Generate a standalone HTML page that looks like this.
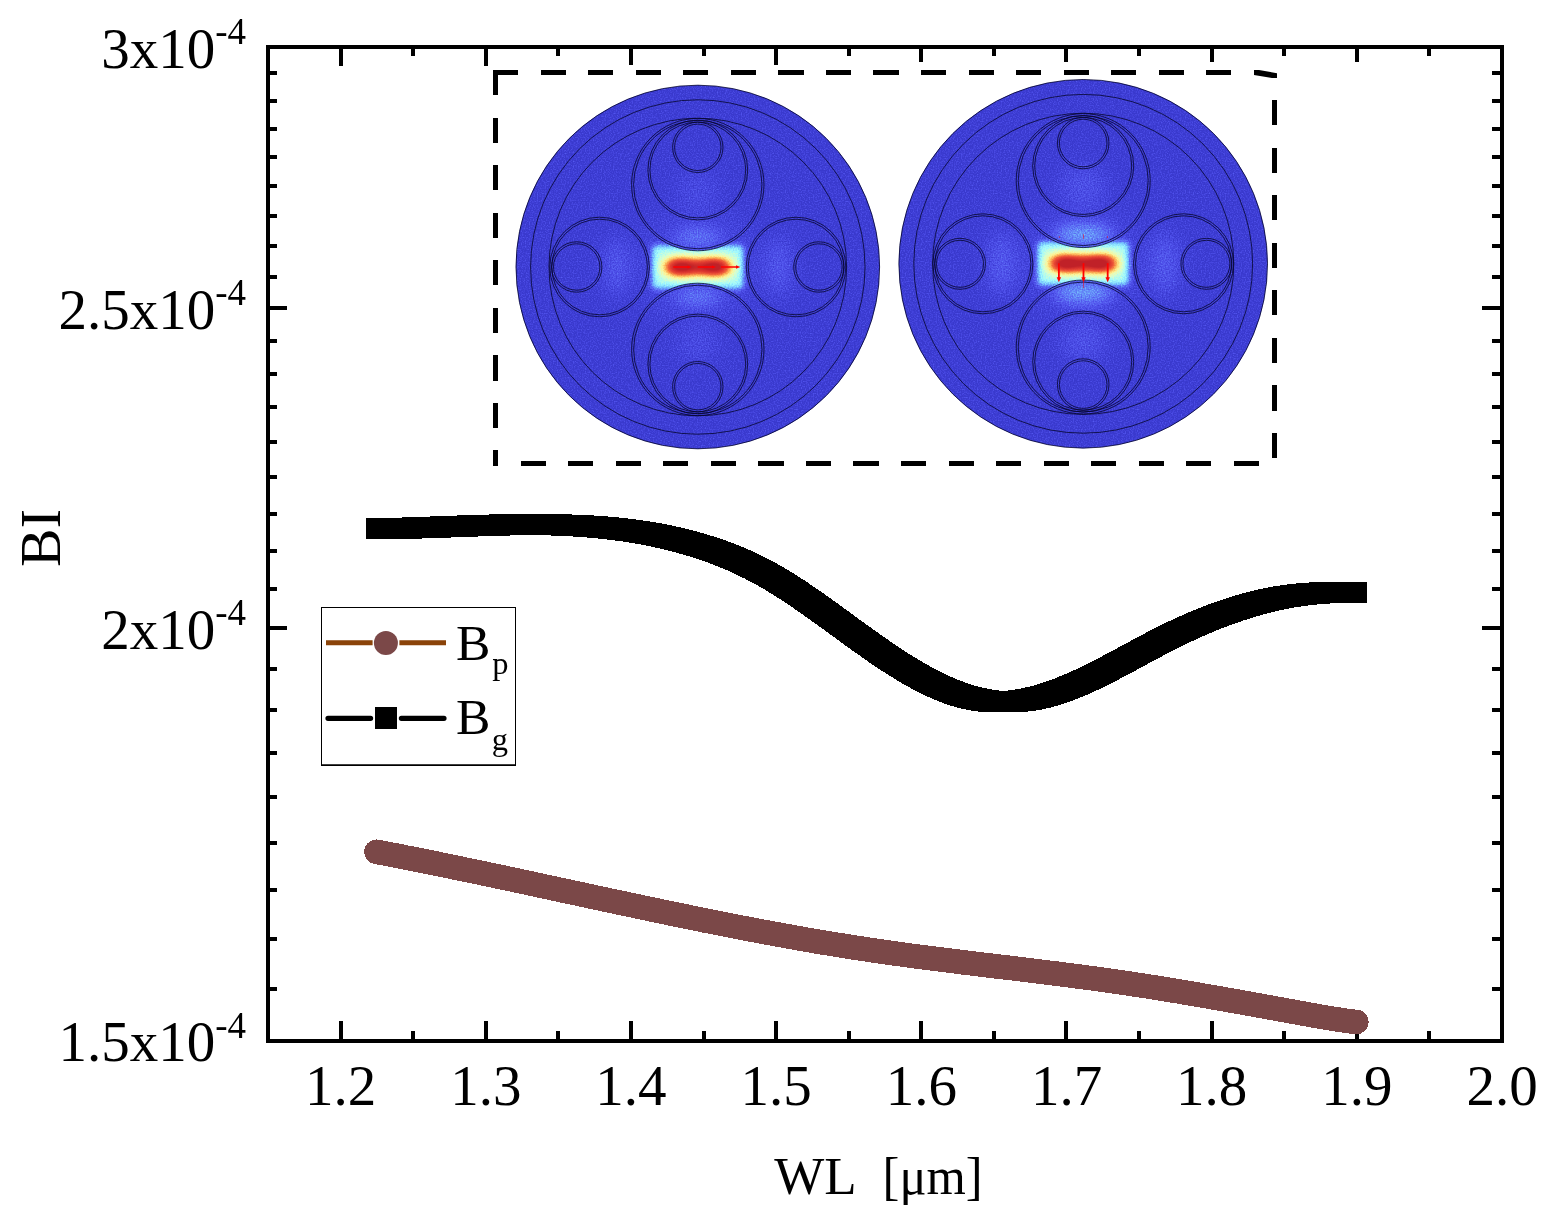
<!DOCTYPE html>
<html lang="en"><head><meta charset="utf-8"><title>BI vs WL</title>
<style>html,body{margin:0;padding:0;background:#fff}body{width:1557px;height:1222px;overflow:hidden}svg{display:block}text{font-family:"Liberation Serif","DejaVu Serif",serif;fill:#000}</style>
</head><body>
<svg width="1557" height="1222" viewBox="0 0 1557 1222">
<rect width="1557" height="1222" fill="#fff"/>
<path d="M340.59 47.0v19M340.59 1041.0v-20.5M485.76 47.0v19M485.76 1041.0v-20.5M630.94 47.0v17.8M630.94 1041.0v-20.5M776.12 47.0v17.8M776.12 1041.0v-20.5M921.29 47.0v14.5M921.29 1041.0v-20.5M1066.47 47.0v14.5M1066.47 1041.0v-20.5M1211.65 47.0v14.5M1211.65 1041.0v-20.5M1356.82 47.0v14.5M1356.82 1041.0v-20.5M413.18 47.0v9M413.18 1041.0v-10M558.35 47.0v9M558.35 1041.0v-10M703.53 47.0v9M703.53 1041.0v-10M848.71 47.0v9M848.71 1041.0v-10M993.88 47.0v9M993.88 1041.0v-10M1139.06 47.0v9M1139.06 1041.0v-10M1284.24 47.0v9M1284.24 1041.0v-10M1429.41 47.0v9M1429.41 1041.0v-10M268.0 73.00h9M1502.0 73.00h-9.6M268.0 101.12h9M1502.0 101.12h-9.6M268.0 128.97h9M1502.0 128.97h-9.6M268.0 157.37h9M1502.0 157.37h-9.6M268.0 186.34h9M1502.0 186.34h-9.6M268.0 215.91h9M1502.0 215.91h-9.6M268.0 246.10h9M1502.0 246.10h-9.6M268.0 276.94h9M1502.0 276.94h-9.6M268.0 308.46h19M1502.0 308.46h-20M268.0 340.68h9M1502.0 340.68h-9.6M268.0 373.65h9M1502.0 373.65h-9.6M268.0 407.39h9M1502.0 407.39h-9.6M268.0 441.95h9M1502.0 441.95h-9.6M268.0 477.36h9M1502.0 477.36h-9.6M268.0 513.67h9M1502.0 513.67h-9.6M268.0 550.92h9M1502.0 550.92h-9.6M268.0 589.16h9M1502.0 589.16h-9.6M268.0 628.45h19M1502.0 628.45h-20M268.0 668.85h9M1502.0 668.85h-9.6M268.0 710.42h9M1502.0 710.42h-9.6M268.0 753.23h9M1502.0 753.23h-9.6M268.0 797.36h9M1502.0 797.36h-9.6M268.0 842.89h9M1502.0 842.89h-9.6M268.0 889.91h9M1502.0 889.91h-9.6M268.0 938.53h9M1502.0 938.53h-9.6M268.0 988.85h9M1502.0 988.85h-9.6" stroke="#000" stroke-width="4" fill="none" shape-rendering="crispEdges"/>
<defs>
<filter id="jet" color-interpolation-filters="sRGB" filterUnits="userSpaceOnUse" x="500" y="60" width="790" height="410"><feTurbulence type="fractalNoise" baseFrequency="0.75" numOctaves="1" seed="3" result="n0"/><feColorMatrix in="n0" type="matrix" values="1 0 0 0 0 1 0 0 0 0 1 0 0 0 0 0 0 0 0 1" result="n"/><feComposite in="SourceGraphic" in2="n" operator="arithmetic" k1="-0.3" k2="1.129" k3="0.3" k4="-0.129" result="m"/><feComposite in="m" in2="SourceGraphic" operator="in"/><feComponentTransfer><feFuncR type="table" tableValues="0.224 0.245 0.267 0.29 0.314 0.333 0.353 0.369 0.384 0.408 0.431 0.459 0.486 0.524 0.561 0.598 0.635 0.69 0.745 0.8 0.855 0.894 0.933 0.973 0.995 0.993 0.991 0.989 0.983 0.97 0.957 0.944 0.929 0.914 0.898 0.882 0.859 0.837 0.812 0.782 0.753"/><feFuncG type="table" tableValues="0.224 0.245 0.267 0.294 0.322 0.361 0.4 0.455 0.51 0.584 0.659 0.731 0.804 0.848 0.892 0.936 0.98 0.985 0.99 0.995 1 0.988 0.976 0.964 0.93 0.864 0.797 0.73 0.656 0.571 0.486 0.401 0.353 0.314 0.275 0.239 0.216 0.194 0.173 0.153 0.133"/><feFuncB type="table" tableValues="0.804 0.835 0.867 0.894 0.922 0.937 0.953 0.961 0.969 0.976 0.984 0.992 1 0.998 0.996 0.994 0.992 0.945 0.898 0.851 0.804 0.744 0.684 0.624 0.563 0.5 0.438 0.375 0.325 0.295 0.264 0.234 0.22 0.212 0.203 0.194 0.186 0.178 0.17 0.163 0.157"/></feComponentTransfer></filter>
<filter id="b6" color-interpolation-filters="sRGB" x="-100%" y="-100%" width="300%" height="300%"><feGaussianBlur stdDeviation="6"/></filter>
<filter id="b8" color-interpolation-filters="sRGB" x="-100%" y="-100%" width="300%" height="300%"><feGaussianBlur stdDeviation="8"/></filter>
<filter id="b10" color-interpolation-filters="sRGB" x="-100%" y="-100%" width="300%" height="300%"><feGaussianBlur stdDeviation="10"/></filter>
<filter id="b14" color-interpolation-filters="sRGB" x="-100%" y="-100%" width="300%" height="300%"><feGaussianBlur stdDeviation="14"/></filter>
<filter id="bc" color-interpolation-filters="sRGB" filterUnits="userSpaceOnUse" x="500" y="60" width="790" height="410"><feGaussianBlur stdDeviation="7.5 6.6"/><feComponentTransfer><feFuncA type="linear" slope="2.7"/></feComponentTransfer></filter>
<filter id="bh" color-interpolation-filters="sRGB" x="-30%" y="-50%" width="160%" height="200%"><feGaussianBlur stdDeviation="3.2"/></filter>
</defs>
<path d="M493 72.5H1250M1274.5 100V458M1259 463.5H519M495.5 70V466" fill="none" stroke="#000" stroke-width="5" stroke-dasharray="25.2 22.35" shape-rendering="crispEdges"/>
<path d="M1254 70H1259L1277 73.2V78H1272L1254 75Z" fill="#000"/>
<clipPath id="d1c"><circle cx="697.8" cy="267.0" r="182.1"/></clipPath>
<clipPath id="d1o"><path clip-rule="evenodd" d="M516 85h364v364h-364ZM631.8 184.6a66.0 66.0 0 1 0 132.0 0a66.0 66.0 0 1 0 -132.0 0ZM631.8 349.4a66.0 66.0 0 1 0 132.0 0a66.0 66.0 0 1 0 -132.0 0ZM550.0 267.0a49.6 49.6 0 1 0 99.2 0a49.6 49.6 0 1 0 -99.2 0ZM746.4 267.0a49.6 49.6 0 1 0 99.2 0a49.6 49.6 0 1 0 -99.2 0Z"/></clipPath>
<clipPath id="d1i"><path d="M631.8 184.6a66.0 66.0 0 1 0 132.0 0a66.0 66.0 0 1 0 -132.0 0ZM631.8 349.4a66.0 66.0 0 1 0 132.0 0a66.0 66.0 0 1 0 -132.0 0ZM550.0 267.0a49.6 49.6 0 1 0 99.2 0a49.6 49.6 0 1 0 -99.2 0ZM746.4 267.0a49.6 49.6 0 1 0 99.2 0a49.6 49.6 0 1 0 -99.2 0Z"/></clipPath>
<g filter="url(#jet)"><g clip-path="url(#d1c)">
<rect x="514" y="83" width="368" height="368" fill="#000"/>
<circle cx="697.8" cy="267.0" r="60" fill="#fff" opacity="0.04" filter="url(#b14)"/>
<g clip-path="url(#d1i)">
<ellipse cx="697.8" cy="237.5" rx="24" ry="7" fill="#fff" opacity="0.17" filter="url(#b8)"/>
<ellipse cx="697.8" cy="296.5" rx="24" ry="7" fill="#fff" opacity="0.17" filter="url(#b8)"/>
<ellipse cx="697.8" cy="190.0" rx="22" ry="18" fill="#fff" opacity="0.05" filter="url(#b10)"/>
<ellipse cx="697.8" cy="344.0" rx="22" ry="18" fill="#fff" opacity="0.05" filter="url(#b10)"/>
<ellipse cx="617.0" cy="267.0" rx="12" ry="30" fill="#fff" opacity="0.1" filter="url(#b10)"/>
<ellipse cx="778.6" cy="267.0" rx="12" ry="30" fill="#fff" opacity="0.1" filter="url(#b10)"/>
<g fill="#fff" opacity="0.4" filter="url(#bc)"><rect x="666.8" y="264.4" width="62" height="5.2"/><rect x="668.8" y="262.2" width="22" height="9.600000000000001" opacity="0.5"/><rect x="704.8" y="262.2" width="22" height="9.600000000000001" opacity="0.5"/></g>
</g>
<g clip-path="url(#d1o)">
<rect x="652.3" y="245.5" width="91" height="43" fill="#fff" opacity="0.38" filter="url(#bh)"/>
<g fill="#fff" filter="url(#bc)"><rect x="666.8" y="264.4" width="62" height="5.2"/><rect x="668.8" y="262.2" width="22" height="9.600000000000001" opacity="0.5"/><rect x="704.8" y="262.2" width="22" height="9.600000000000001" opacity="0.5"/></g>
</g>
</g></g>
<g fill="none" stroke="#05052c" stroke-width="0.8"><circle cx="697.8" cy="267.0" r="181.8"/><circle cx="697.8" cy="267.0" r="167.2"/><circle cx="697.8" cy="267.0" r="148.8"/><circle cx="697.8" cy="184.6" r="66.2"/><circle cx="697.8" cy="184.6" r="64.2"/><circle cx="697.8" cy="170.0" r="49.9"/><circle cx="697.8" cy="170.0" r="47.9"/><circle cx="697.8" cy="147.3" r="25.2"/><circle cx="697.8" cy="147.3" r="23.2"/><circle cx="697.8" cy="349.4" r="66.2"/><circle cx="697.8" cy="349.4" r="64.2"/><circle cx="697.8" cy="364.0" r="49.9"/><circle cx="697.8" cy="364.0" r="47.9"/><circle cx="697.8" cy="386.7" r="25.2"/><circle cx="697.8" cy="386.7" r="23.2"/><circle cx="599.6" cy="267.0" r="49.8"/><circle cx="599.6" cy="267.0" r="47.8"/><circle cx="576.7" cy="267.0" r="25.2"/><circle cx="576.7" cy="267.0" r="23.2"/><circle cx="796.0" cy="267.0" r="49.8"/><circle cx="796.0" cy="267.0" r="47.8"/><circle cx="818.9" cy="267.0" r="25.2"/><circle cx="818.9" cy="267.0" r="23.2"/></g>
<path d="M673.2 267H689M697.6 267H713.4M721 267H737" fill="none" stroke="#f00" stroke-width="1.5"/><path d="M687.6 265.4L691.6 267L687.6 268.6ZM712 265.4L716 267L712 268.6ZM736 265.3L740.4 267L736 268.7Z" fill="#f00"/>
<clipPath id="d2c"><circle cx="1083.2" cy="263.8" r="184.6"/></clipPath>
<clipPath id="d2o"><path clip-rule="evenodd" d="M899 79h369v369h-369ZM1016.4 180.6a66.8 66.8 0 1 0 133.6 0a66.8 66.8 0 1 0 -133.6 0ZM1016.4 347.0a66.8 66.8 0 1 0 133.6 0a66.8 66.8 0 1 0 -133.6 0ZM933.1 263.8a49.8 49.8 0 1 0 99.6 0a49.8 49.8 0 1 0 -99.6 0ZM1133.7 263.8a49.8 49.8 0 1 0 99.6 0a49.8 49.8 0 1 0 -99.6 0Z"/></clipPath>
<clipPath id="d2i"><path d="M1016.4 180.6a66.8 66.8 0 1 0 133.6 0a66.8 66.8 0 1 0 -133.6 0ZM1016.4 347.0a66.8 66.8 0 1 0 133.6 0a66.8 66.8 0 1 0 -133.6 0ZM933.1 263.8a49.8 49.8 0 1 0 99.6 0a49.8 49.8 0 1 0 -99.6 0ZM1133.7 263.8a49.8 49.8 0 1 0 99.6 0a49.8 49.8 0 1 0 -99.6 0Z"/></clipPath>
<g filter="url(#jet)"><g clip-path="url(#d2c)">
<rect x="897" y="77" width="373" height="373" fill="#000"/>
<circle cx="1083.2" cy="263.8" r="60" fill="#fff" opacity="0.04" filter="url(#b14)"/>
<g clip-path="url(#d2i)">
<ellipse cx="1083.2" cy="234.5" rx="30" ry="9" fill="#fff" opacity="0.24" filter="url(#b8)"/>
<ellipse cx="1083.2" cy="292.5" rx="30" ry="9" fill="#fff" opacity="0.24" filter="url(#b8)"/>
<ellipse cx="1083.2" cy="186.0" rx="24" ry="20" fill="#fff" opacity="0.07" filter="url(#b10)"/>
<ellipse cx="1083.2" cy="341.0" rx="24" ry="20" fill="#fff" opacity="0.07" filter="url(#b10)"/>
<ellipse cx="1002.0" cy="263.8" rx="14" ry="32" fill="#fff" opacity="0.1" filter="url(#b10)"/>
<ellipse cx="1164.4" cy="263.8" rx="14" ry="32" fill="#fff" opacity="0.1" filter="url(#b10)"/>
<g fill="#fff" opacity="0.45" filter="url(#bc)"><rect x="1051.7" y="260.5" width="63.0" height="6.0"/><rect x="1053.7" y="258.3" width="22" height="10.4" opacity="0.35"/><rect x="1090.7" y="258.3" width="22" height="10.4" opacity="0.35"/></g>
</g>
<g clip-path="url(#d2o)">
<rect x="1037.7" y="242.0" width="91" height="43" fill="#fff" opacity="0.38" filter="url(#bh)"/>
<g fill="#fff" filter="url(#bc)"><rect x="1051.7" y="260.5" width="63.0" height="6.0"/><rect x="1053.7" y="258.3" width="22" height="10.4" opacity="0.35"/><rect x="1090.7" y="258.3" width="22" height="10.4" opacity="0.35"/></g>
</g>
</g></g>
<g fill="none" stroke="#05052c" stroke-width="0.8"><circle cx="1083.2" cy="263.8" r="184.3"/><circle cx="1083.2" cy="263.8" r="169.4"/><circle cx="1083.2" cy="263.8" r="150.6"/><circle cx="1083.2" cy="180.6" r="67.0"/><circle cx="1083.2" cy="180.6" r="65.0"/><circle cx="1083.2" cy="166.0" r="50.5"/><circle cx="1083.2" cy="166.0" r="48.5"/><circle cx="1083.2" cy="143.0" r="25.8"/><circle cx="1083.2" cy="143.0" r="23.8"/><circle cx="1083.2" cy="347.0" r="67.0"/><circle cx="1083.2" cy="347.0" r="65.0"/><circle cx="1083.2" cy="361.6" r="50.5"/><circle cx="1083.2" cy="361.6" r="48.5"/><circle cx="1083.2" cy="384.6" r="25.8"/><circle cx="1083.2" cy="384.6" r="23.8"/><circle cx="982.9" cy="263.8" r="50.0"/><circle cx="982.9" cy="263.8" r="48.0"/><circle cx="960.0" cy="263.8" r="25.5"/><circle cx="960.0" cy="263.8" r="23.5"/><circle cx="1183.5" cy="263.8" r="50.0"/><circle cx="1183.5" cy="263.8" r="48.0"/><circle cx="1206.4" cy="263.8" r="25.5"/><circle cx="1206.4" cy="263.8" r="23.5"/></g>
<path d="M1058.9 263.2V279" stroke="#f00" stroke-width="1.8" fill="none"/><path d="M1056.7 277.2H1061.1000000000001L1058.9 282.3Z" fill="#f00"/><path d="M1083.5 263.2V279" stroke="#f00" stroke-width="1.8" fill="none"/><path d="M1081.3 277.2H1085.7L1083.5 282.3Z" fill="#f00"/><path d="M1107.7 263.2V279" stroke="#f00" stroke-width="1.8" fill="none"/><path d="M1105.5 277.2H1109.9L1107.7 282.3Z" fill="#f00"/><path d="M1083.5 282V288.2M1083.5 234.2V238.8" stroke="#f00" stroke-width="0.7" stroke-opacity="0.7" fill="none"/><path d="M1059.3 236V238M1107.5 236V238" stroke="#f00" stroke-width="0.8" stroke-opacity="0.6" fill="none"/>
<path d="M366.0 518.2L367.0 518.2L368.0 518.2L369.0 518.2L370.0 518.2L371.0 518.2L372.0 518.1L373.0 518.1L374.0 518.1L375.0 518.1L376.0 518.1L377.0 518.1L378.0 518.0L379.0 518.0L380.0 518.0L381.0 518.0L382.0 518.0L383.0 517.9L384.0 517.9L385.0 517.9L386.0 517.9L387.0 517.9L388.0 517.8L389.0 517.8L390.0 517.8L391.0 517.8L392.0 517.7L393.0 517.7L394.0 517.7L395.0 517.7L396.0 517.6L397.0 517.6L398.0 517.6L399.0 517.5L400.0 517.5L401.0 517.5L402.0 517.5L403.0 517.4L404.0 517.4L405.0 517.4L406.0 517.3L407.0 517.3L408.0 517.3L409.0 517.2L410.0 517.2L411.0 517.2L412.0 517.1L413.0 517.1L414.0 517.1L415.0 517.0L416.0 517.0L417.0 517.0L418.0 516.9L419.0 516.9L420.0 516.8L421.0 516.8L422.0 516.8L423.0 516.7L424.0 516.7L425.0 516.7L426.0 516.6L427.0 516.6L428.0 516.5L429.0 516.5L430.0 516.5L431.0 516.4L432.0 516.4L433.0 516.4L434.0 516.3L435.0 516.3L436.0 516.2L437.0 516.2L438.0 516.2L439.0 516.1L440.0 516.1L441.0 516.1L442.0 516.0L443.0 516.0L444.0 515.9L445.0 515.9L446.0 515.9L447.0 515.8L448.0 515.8L449.0 515.8L450.0 515.7L451.0 515.7L452.0 515.6L453.0 515.6L454.0 515.6L455.0 515.5L456.0 515.5L457.0 515.5L458.0 515.4L459.0 515.4L460.0 515.4L461.0 515.3L462.0 515.3L463.0 515.2L464.0 515.2L465.0 515.2L466.0 515.1L467.0 515.1L468.0 515.1L469.0 515.0L470.0 515.0L471.0 515.0L472.0 514.9L473.0 514.9L474.0 514.9L475.0 514.8L476.0 514.8L477.0 514.8L478.0 514.8L479.0 514.7L480.0 514.7L481.0 514.7L482.0 514.6L483.0 514.6L484.0 514.6L485.0 514.6L486.0 514.5L487.0 514.5L488.0 514.5L489.0 514.5L490.0 514.4L491.0 514.4L492.0 514.4L493.0 514.4L494.0 514.4L495.0 514.3L496.0 514.3L497.0 514.3L498.0 514.3L499.0 514.3L500.0 514.2L501.0 514.2L502.0 514.2L503.0 514.2L504.0 514.2L505.0 514.2L506.0 514.1L507.0 514.1L508.0 514.1L509.0 514.1L510.0 514.1L511.0 514.1L512.0 514.1L513.0 514.1L514.0 514.1L515.0 514.1L516.0 514.0L517.0 514.0L518.0 514.0L519.0 514.0L520.0 514.0L521.0 514.0L522.0 514.0L523.0 514.0L524.0 514.0L525.0 514.0L526.0 514.0L527.0 514.0L528.0 514.0L529.0 514.0L530.0 514.0L531.0 514.0L532.0 514.0L533.0 514.0L534.0 514.0L535.0 514.0L536.0 514.0L537.0 514.0L538.0 514.0L539.0 514.0L540.0 514.0L541.0 514.0L542.0 514.0L543.0 514.0L544.0 514.0L545.0 514.0L546.0 514.0L547.0 514.0L548.0 514.0L549.0 514.1L550.0 514.1L551.0 514.1L552.0 514.1L553.0 514.1L554.0 514.1L555.0 514.1L556.0 514.1L557.0 514.1L558.0 514.1L559.0 514.2L560.0 514.2L561.0 514.2L562.0 514.2L563.0 514.2L564.0 514.3L565.0 514.3L566.0 514.3L567.0 514.3L568.0 514.4L569.0 514.4L570.0 514.4L571.0 514.4L572.0 514.5L573.0 514.5L574.0 514.5L575.0 514.6L576.0 514.6L577.0 514.6L578.0 514.7L579.0 514.7L580.0 514.8L581.0 514.8L582.0 514.8L583.0 514.9L584.0 514.9L585.0 515.0L586.0 515.0L587.0 515.1L588.0 515.1L589.0 515.2L590.0 515.2L591.0 515.3L592.0 515.4L593.0 515.4L594.0 515.5L595.0 515.5L596.0 515.6L597.0 515.7L598.0 515.7L599.0 515.8L600.0 515.9L601.0 515.9L602.0 516.0L603.0 516.1L604.0 516.2L605.0 516.2L606.0 516.3L607.0 516.4L608.0 516.5L609.0 516.6L610.0 516.7L611.0 516.7L612.0 516.8L613.0 516.9L614.0 517.0L615.0 517.1L616.0 517.2L617.0 517.3L618.0 517.4L619.0 517.5L620.0 517.6L621.0 517.7L622.0 517.8L623.0 517.9L624.0 518.0L625.0 518.1L626.0 518.3L627.0 518.4L628.0 518.5L629.0 518.6L630.0 518.7L631.0 518.8L632.0 519.0L633.0 519.1L634.0 519.2L635.0 519.4L636.0 519.5L637.0 519.6L638.0 519.8L639.0 519.9L640.0 520.0L641.0 520.2L642.0 520.3L643.0 520.5L644.0 520.6L645.0 520.8L646.0 520.9L647.0 521.1L648.0 521.2L649.0 521.4L650.0 521.5L651.0 521.7L652.0 521.9L653.0 522.0L654.0 522.2L655.0 522.4L656.0 522.5L657.0 522.7L658.0 522.9L659.0 523.1L660.0 523.3L661.0 523.4L662.0 523.6L663.0 523.8L664.0 524.0L665.0 524.2L666.0 524.4L667.0 524.6L668.0 524.8L669.0 525.0L670.0 525.2L671.0 525.4L672.0 525.6L673.0 525.8L674.0 526.0L675.0 526.2L676.0 526.5L677.0 526.7L678.0 526.9L679.0 527.1L680.0 527.3L681.0 527.6L682.0 527.8L683.0 528.0L684.0 528.3L685.0 528.5L686.0 528.8L687.0 529.0L688.0 529.3L689.0 529.5L690.0 529.7L691.0 530.0L692.0 530.3L693.0 530.5L694.0 530.8L695.0 531.1L696.0 531.3L697.0 531.6L698.0 531.9L699.0 532.1L700.0 532.4L701.0 532.7L702.0 533.0L703.0 533.3L704.0 533.6L705.0 533.8L706.0 534.1L707.0 534.4L708.0 534.7L709.0 535.1L710.0 535.4L711.0 535.7L712.0 536.0L713.0 536.3L714.0 536.6L715.0 536.9L716.0 537.2L717.0 537.6L718.0 537.9L719.0 538.3L720.0 538.6L721.0 538.9L722.0 539.3L723.0 539.6L724.0 539.9L725.0 540.3L726.0 540.7L727.0 541.0L728.0 541.4L729.0 541.8L730.0 542.1L731.0 542.5L732.0 542.9L733.0 543.3L734.0 543.7L735.0 544.0L736.0 544.4L737.0 544.8L738.0 545.2L739.0 545.6L740.0 546.0L741.0 546.4L742.0 546.9L743.0 547.3L744.0 547.7L745.0 548.1L746.0 548.5L747.0 548.9L748.0 549.4L749.0 549.8L750.0 550.3L751.0 550.7L752.0 551.2L753.0 551.6L754.0 552.1L755.0 552.5L756.0 553.0L757.0 553.4L758.0 554.0L759.0 554.4L760.0 554.9L761.0 555.4L762.0 555.9L763.0 556.3L764.0 556.8L765.0 557.3L766.0 557.9L767.0 558.4L768.0 558.9L769.0 559.4L770.0 559.9L771.0 560.4L772.0 561.0L773.0 561.5L774.0 562.0L775.0 562.6L776.0 563.2L777.0 563.7L778.0 564.3L779.0 564.8L780.0 565.4L781.0 565.9L782.0 566.5L783.0 567.2L784.0 567.7L785.0 568.3L786.0 568.9L787.0 569.5L788.0 570.1L789.0 570.7L790.0 571.3L791.0 572.0L792.0 572.6L793.0 573.2L794.0 573.8L795.0 574.4L796.0 575.0L797.0 575.6L798.0 576.3L799.0 577.0L800.0 577.6L801.0 578.3L802.0 578.9L803.0 579.5L804.0 580.2L805.0 580.8L806.0 581.5L807.0 582.1L808.0 582.9L809.0 583.5L810.0 584.2L811.0 584.9L812.0 585.5L813.0 586.2L814.0 586.9L815.0 587.5L816.0 588.3L817.0 589.0L818.0 589.7L819.0 590.4L820.0 591.0L821.0 591.7L822.0 592.4L823.0 593.1L824.0 593.9L825.0 594.6L826.0 595.3L827.0 596.0L828.0 596.7L829.0 597.4L830.0 598.1L831.0 598.8L832.0 599.6L833.0 600.3L834.0 601.0L835.0 601.7L836.0 602.4L837.0 603.1L838.0 603.8L839.0 604.5L840.0 605.4L841.0 606.1L842.0 606.8L843.0 607.5L844.0 608.2L845.0 608.9L846.0 609.6L847.0 610.3L848.0 611.1L849.0 611.9L850.0 612.6L851.0 613.3L852.0 614.0L853.0 614.8L854.0 615.5L855.0 616.2L856.0 616.9L857.0 617.7L858.0 618.5L859.0 619.2L860.0 619.9L861.0 620.6L862.0 621.3L863.0 622.0L864.0 622.7L865.0 623.6L866.0 624.3L867.0 625.0L868.0 625.7L869.0 626.4L870.0 627.1L871.0 627.8L872.0 628.5L873.0 629.3L874.0 630.0L875.0 630.7L876.0 631.4L877.0 632.1L878.0 632.8L879.0 633.5L880.0 634.2L881.0 634.9L882.0 635.7L883.0 636.4L884.0 637.1L885.0 637.8L886.0 638.5L887.0 639.2L888.0 639.8L889.0 640.5L890.0 641.3L891.0 642.0L892.0 642.6L893.0 643.3L894.0 644.0L895.0 644.6L896.0 645.3L897.0 646.0L898.0 646.7L899.0 647.4L900.0 648.0L901.0 648.7L902.0 649.3L903.0 650.0L904.0 650.6L905.0 651.2L906.0 652.0L907.0 652.6L908.0 653.2L909.0 653.9L910.0 654.5L911.0 655.1L912.0 655.7L913.0 656.3L914.0 656.9L915.0 657.6L916.0 658.2L917.0 658.8L918.0 659.4L919.0 660.0L920.0 660.6L921.0 661.2L922.0 661.7L923.0 662.4L924.0 663.0L925.0 663.5L926.0 664.1L927.0 664.7L928.0 665.2L929.0 665.7L930.0 666.3L931.0 666.9L932.0 667.5L933.0 668.0L934.0 668.5L935.0 669.0L936.0 669.5L937.0 670.0L938.0 670.6L939.0 671.1L940.0 671.6L941.0 672.1L942.0 672.6L943.0 673.1L944.0 673.6L945.0 674.0L946.0 674.5L947.0 674.9L948.0 675.5L949.0 675.9L950.0 676.4L951.0 676.8L952.0 677.2L953.0 677.7L954.0 678.1L955.0 678.5L956.0 679.0L957.0 679.4L958.0 679.8L959.0 680.2L960.0 680.5L961.0 680.9L962.0 681.3L963.0 681.7L964.0 682.1L965.0 682.4L966.0 682.8L967.0 683.1L968.0 683.5L969.0 683.8L970.0 684.1L971.0 684.4L972.0 684.8L973.0 685.1L974.0 685.4L975.0 685.7L976.0 685.9L977.0 686.2L978.0 686.5L979.0 686.7L980.0 687.0L981.0 687.3L982.0 687.5L983.0 687.8L984.0 688.0L985.0 688.2L986.0 688.4L987.0 688.6L988.0 688.8L989.0 689.0L990.0 689.2L991.0 689.4L992.0 689.5L993.0 689.7L994.0 689.8L995.0 690.0L996.0 690.1L997.0 690.3L998.0 690.4L999.0 690.5L1000.0 690.6L1001.0 690.7L1002.0 690.8L1003.0 690.9L1004.0 690.8L1005.0 690.8L1006.0 690.7L1007.0 690.6L1008.0 690.5L1009.0 690.3L1010.0 690.2L1011.0 690.1L1012.0 690.0L1013.0 689.8L1014.0 689.7L1015.0 689.5L1016.0 689.4L1017.0 689.2L1018.0 689.0L1019.0 688.9L1020.0 688.7L1021.0 688.5L1022.0 688.3L1023.0 688.1L1024.0 687.9L1025.0 687.6L1026.0 687.4L1027.0 687.2L1028.0 686.9L1029.0 686.7L1030.0 686.5L1031.0 686.2L1032.0 686.0L1033.0 685.7L1034.0 685.4L1035.0 685.1L1036.0 684.8L1037.0 684.5L1038.0 684.2L1039.0 683.9L1040.0 683.6L1041.0 683.3L1042.0 683.0L1043.0 682.6L1044.0 682.3L1045.0 682.0L1046.0 681.7L1047.0 681.3L1048.0 681.0L1049.0 680.6L1050.0 680.2L1051.0 679.8L1052.0 679.5L1053.0 679.1L1054.0 678.7L1055.0 678.4L1056.0 678.0L1057.0 677.6L1058.0 677.1L1059.0 676.7L1060.0 676.3L1061.0 675.9L1062.0 675.5L1063.0 675.1L1064.0 674.7L1065.0 674.3L1066.0 673.8L1067.0 673.4L1068.0 672.9L1069.0 672.5L1070.0 672.1L1071.0 671.6L1072.0 671.2L1073.0 670.7L1074.0 670.3L1075.0 669.8L1076.0 669.3L1077.0 668.8L1078.0 668.4L1079.0 667.9L1080.0 667.4L1081.0 667.0L1082.0 666.5L1083.0 665.9L1084.0 665.5L1085.0 665.0L1086.0 664.5L1087.0 664.0L1088.0 663.5L1089.0 663.0L1090.0 662.5L1091.0 661.9L1092.0 661.4L1093.0 660.9L1094.0 660.4L1095.0 659.9L1096.0 659.4L1097.0 658.9L1098.0 658.4L1099.0 657.8L1100.0 657.3L1101.0 656.8L1102.0 656.3L1103.0 655.8L1104.0 655.2L1105.0 654.7L1106.0 654.2L1107.0 653.7L1108.0 653.1L1109.0 652.6L1110.0 652.0L1111.0 651.5L1112.0 651.0L1113.0 650.5L1114.0 649.9L1115.0 649.4L1116.0 648.8L1117.0 648.3L1118.0 647.7L1119.0 647.2L1120.0 646.7L1121.0 646.1L1122.0 645.6L1123.0 645.1L1124.0 644.5L1125.0 643.9L1126.0 643.4L1127.0 642.9L1128.0 642.3L1129.0 641.8L1130.0 641.3L1131.0 640.7L1132.0 640.1L1133.0 639.6L1134.0 639.1L1135.0 638.6L1136.0 638.0L1137.0 637.5L1138.0 637.0L1139.0 636.5L1140.0 635.9L1141.0 635.3L1142.0 634.8L1143.0 634.3L1144.0 633.8L1145.0 633.3L1146.0 632.8L1147.0 632.2L1148.0 631.7L1149.0 631.1L1150.0 630.6L1151.0 630.1L1152.0 629.6L1153.0 629.1L1154.0 628.6L1155.0 628.1L1156.0 627.6L1157.0 627.1L1158.0 626.6L1159.0 626.1L1160.0 625.6L1161.0 625.1L1162.0 624.6L1163.0 624.2L1164.0 623.7L1165.0 623.1L1166.0 622.7L1167.0 622.2L1168.0 621.7L1169.0 621.3L1170.0 620.8L1171.0 620.3L1172.0 619.9L1173.0 619.4L1174.0 618.9L1175.0 618.4L1176.0 618.0L1177.0 617.5L1178.0 617.1L1179.0 616.7L1180.0 616.2L1181.0 615.8L1182.0 615.3L1183.0 614.8L1184.0 614.4L1185.0 614.0L1186.0 613.6L1187.0 613.1L1188.0 612.7L1189.0 612.3L1190.0 611.8L1191.0 611.4L1192.0 611.0L1193.0 610.6L1194.0 610.2L1195.0 609.8L1196.0 609.4L1197.0 609.0L1198.0 608.5L1199.0 608.1L1200.0 607.8L1201.0 607.4L1202.0 607.0L1203.0 606.6L1204.0 606.2L1205.0 605.9L1206.0 605.4L1207.0 605.1L1208.0 604.7L1209.0 604.3L1210.0 604.0L1211.0 603.6L1212.0 603.2L1213.0 602.9L1214.0 602.5L1215.0 602.1L1216.0 601.8L1217.0 601.4L1218.0 601.1L1219.0 600.8L1220.0 600.4L1221.0 600.1L1222.0 599.8L1223.0 599.4L1224.0 599.1L1225.0 598.7L1226.0 598.4L1227.0 598.1L1228.0 597.8L1229.0 597.5L1230.0 597.2L1231.0 596.8L1232.0 596.5L1233.0 596.2L1234.0 595.9L1235.0 595.6L1236.0 595.4L1237.0 595.1L1238.0 594.8L1239.0 594.5L1240.0 594.2L1241.0 593.9L1242.0 593.6L1243.0 593.4L1244.0 593.1L1245.0 592.8L1246.0 592.6L1247.0 592.3L1248.0 592.0L1249.0 591.8L1250.0 591.5L1251.0 591.3L1252.0 591.1L1253.0 590.8L1254.0 590.6L1255.0 590.3L1256.0 590.1L1257.0 589.9L1258.0 589.6L1259.0 589.4L1260.0 589.2L1261.0 589.0L1262.0 588.8L1263.0 588.6L1264.0 588.3L1265.0 588.1L1266.0 587.9L1267.0 587.7L1268.0 587.5L1269.0 587.4L1270.0 587.2L1271.0 587.0L1272.0 586.8L1273.0 586.6L1274.0 586.4L1275.0 586.3L1276.0 586.1L1277.0 585.9L1278.0 585.8L1279.0 585.6L1280.0 585.5L1281.0 585.3L1282.0 585.2L1283.0 585.0L1284.0 584.9L1285.0 584.7L1286.0 584.6L1287.0 584.5L1288.0 584.4L1289.0 584.2L1290.0 584.1L1291.0 584.0L1292.0 583.9L1293.0 583.8L1294.0 583.7L1295.0 583.6L1296.0 583.5L1297.0 583.4L1298.0 583.3L1299.0 583.2L1300.0 583.1L1301.0 583.0L1302.0 582.9L1303.0 582.9L1304.0 582.8L1305.0 582.7L1306.0 582.7L1307.0 582.6L1308.0 582.5L1309.0 582.5L1310.0 582.4L1311.0 582.4L1312.0 582.4L1313.0 582.3L1314.0 582.3L1315.0 582.2L1316.0 582.2L1317.0 582.2L1318.0 582.2L1319.0 582.2L1320.0 582.1L1321.0 582.1L1322.0 582.1L1323.0 582.1L1324.0 582.1L1325.0 582.1L1326.0 582.1L1327.0 582.1L1328.0 582.1L1329.0 582.1L1330.0 582.1L1331.0 582.1L1332.0 582.1L1333.0 582.1L1334.0 582.1L1335.0 582.1L1336.0 582.1L1337.0 582.1L1338.0 582.1L1339.0 582.1L1340.0 582.1L1341.0 582.1L1342.0 582.1L1343.0 582.1L1344.0 582.1L1345.0 582.1L1346.0 582.1L1347.0 582.1L1348.0 582.1L1349.0 582.1L1350.0 582.1L1351.0 582.1L1352.0 582.1L1353.0 582.1L1354.0 582.1L1355.0 582.1L1356.0 582.1L1357.0 582.1L1358.0 582.1L1359.0 582.1L1360.0 582.1L1361.0 582.1L1362.0 582.1L1363.0 582.1L1364.0 582.1L1365.0 582.1L1366.0 582.1L1367.0 582.1L1367.0 603.1L1366.0 603.1L1365.0 603.1L1364.0 603.1L1363.0 603.1L1362.0 603.1L1361.0 603.1L1360.0 603.1L1359.0 603.1L1358.0 603.1L1357.0 603.1L1356.0 603.1L1355.0 603.1L1354.0 603.1L1353.0 603.1L1352.0 603.1L1351.0 603.1L1350.0 603.1L1349.0 603.1L1348.0 603.1L1347.0 603.1L1346.0 603.1L1345.0 603.1L1344.0 603.1L1343.0 603.1L1342.0 603.1L1341.0 603.1L1340.0 603.2L1339.0 603.2L1338.0 603.2L1337.0 603.2L1336.0 603.2L1335.0 603.3L1334.0 603.3L1333.0 603.3L1332.0 603.4L1331.0 603.4L1330.0 603.5L1329.0 603.5L1328.0 603.6L1327.0 603.6L1326.0 603.7L1325.0 603.8L1324.0 603.9L1323.0 603.9L1322.0 604.0L1321.0 604.1L1320.0 604.2L1319.0 604.3L1318.0 604.3L1317.0 604.5L1316.0 604.5L1315.0 604.6L1314.0 604.8L1313.0 604.9L1312.0 605.0L1311.0 605.1L1310.0 605.2L1309.0 605.3L1308.0 605.5L1307.0 605.6L1306.0 605.7L1305.0 605.9L1304.0 606.0L1303.0 606.1L1302.0 606.3L1301.0 606.5L1300.0 606.6L1299.0 606.8L1298.0 606.9L1297.0 607.1L1296.0 607.2L1295.0 607.4L1294.0 607.6L1293.0 607.8L1292.0 608.0L1291.0 608.1L1290.0 608.3L1289.0 608.5L1288.0 608.7L1287.0 608.9L1286.0 609.1L1285.0 609.3L1284.0 609.5L1283.0 609.7L1282.0 609.9L1281.0 610.2L1280.0 610.4L1279.0 610.6L1278.0 610.8L1277.0 611.0L1276.0 611.3L1275.0 611.5L1274.0 611.8L1273.0 612.0L1272.0 612.3L1271.0 612.5L1270.0 612.7L1269.0 613.0L1268.0 613.3L1267.0 613.5L1266.0 613.8L1265.0 614.1L1264.0 614.3L1263.0 614.6L1262.0 614.9L1261.0 615.1L1260.0 615.4L1259.0 615.7L1258.0 616.0L1257.0 616.3L1256.0 616.6L1255.0 616.9L1254.0 617.2L1253.0 617.5L1252.0 617.8L1251.0 618.1L1250.0 618.4L1249.0 618.7L1248.0 619.1L1247.0 619.4L1246.0 619.7L1245.0 620.0L1244.0 620.3L1243.0 620.7L1242.0 621.0L1241.0 621.4L1240.0 621.7L1239.0 622.0L1238.0 622.4L1237.0 622.7L1236.0 623.1L1235.0 623.5L1234.0 623.8L1233.0 624.2L1232.0 624.5L1231.0 624.9L1230.0 625.3L1229.0 625.6L1228.0 626.0L1227.0 626.4L1226.0 626.8L1225.0 627.2L1224.0 627.5L1223.0 627.9L1222.0 628.3L1221.0 628.7L1220.0 629.1L1219.0 629.5L1218.0 629.9L1217.0 630.3L1216.0 630.7L1215.0 631.1L1214.0 631.5L1213.0 631.9L1212.0 632.3L1211.0 632.8L1210.0 633.2L1209.0 633.7L1208.0 634.1L1207.0 634.5L1206.0 634.9L1205.0 635.3L1204.0 635.8L1203.0 636.2L1202.0 636.7L1201.0 637.1L1200.0 637.6L1199.0 638.0L1198.0 638.5L1197.0 638.9L1196.0 639.4L1195.0 639.8L1194.0 640.3L1193.0 640.8L1192.0 641.3L1191.0 641.7L1190.0 642.2L1189.0 642.6L1188.0 643.1L1187.0 643.6L1186.0 644.0L1185.0 644.6L1184.0 645.1L1183.0 645.6L1182.0 646.0L1181.0 646.5L1180.0 647.0L1179.0 647.5L1178.0 648.0L1177.0 648.6L1176.0 649.1L1175.0 649.5L1174.0 650.0L1173.0 650.5L1172.0 651.0L1171.0 651.6L1170.0 652.1L1169.0 652.7L1168.0 653.2L1167.0 653.7L1166.0 654.2L1165.0 654.7L1164.0 655.2L1163.0 655.7L1162.0 656.2L1161.0 656.9L1160.0 657.4L1159.0 657.9L1158.0 658.4L1157.0 658.9L1156.0 659.5L1155.0 660.0L1154.0 660.5L1153.0 661.0L1152.0 661.7L1151.0 662.2L1150.0 662.7L1149.0 663.2L1148.0 663.8L1147.0 664.3L1146.0 664.8L1145.0 665.4L1144.0 666.0L1143.0 666.5L1142.0 667.0L1141.0 667.6L1140.0 668.1L1139.0 668.6L1138.0 669.2L1137.0 669.7L1136.0 670.3L1135.0 670.8L1134.0 671.4L1133.0 671.9L1132.0 672.4L1131.0 672.9L1130.0 673.5L1129.0 674.0L1128.0 674.6L1127.0 675.1L1126.0 675.6L1125.0 676.2L1124.0 676.7L1123.0 677.2L1122.0 677.7L1121.0 678.2L1120.0 678.7L1119.0 679.3L1118.0 679.8L1117.0 680.4L1116.0 680.9L1115.0 681.4L1114.0 681.9L1113.0 682.4L1112.0 682.9L1111.0 683.4L1110.0 683.9L1109.0 684.4L1108.0 684.9L1107.0 685.4L1106.0 685.9L1105.0 686.4L1104.0 686.9L1103.0 687.4L1102.0 687.9L1101.0 688.4L1100.0 688.8L1099.0 689.3L1098.0 689.8L1097.0 690.2L1096.0 690.7L1095.0 691.2L1094.0 691.7L1093.0 692.1L1092.0 692.6L1091.0 693.0L1090.0 693.4L1089.0 693.9L1088.0 694.3L1087.0 694.8L1086.0 695.2L1085.0 695.6L1084.0 696.1L1083.0 696.5L1082.0 696.9L1081.0 697.3L1080.0 697.7L1079.0 698.1L1078.0 698.5L1077.0 698.9L1076.0 699.3L1075.0 699.7L1074.0 700.1L1073.0 700.4L1072.0 700.8L1071.0 701.1L1070.0 701.6L1069.0 701.9L1068.0 702.3L1067.0 702.6L1066.0 702.9L1065.0 703.3L1064.0 703.6L1063.0 703.9L1062.0 704.3L1061.0 704.6L1060.0 704.9L1059.0 705.2L1058.0 705.5L1057.0 705.8L1056.0 706.1L1055.0 706.3L1054.0 706.6L1053.0 706.9L1052.0 707.2L1051.0 707.4L1050.0 707.7L1049.0 707.9L1048.0 708.1L1047.0 708.4L1046.0 708.6L1045.0 708.8L1044.0 709.1L1043.0 709.3L1042.0 709.5L1041.0 709.6L1040.0 709.8L1039.0 710.0L1038.0 710.2L1037.0 710.4L1036.0 710.5L1035.0 710.7L1034.0 710.8L1033.0 710.9L1032.0 711.1L1031.0 711.2L1030.0 711.3L1029.0 711.4L1028.0 711.6L1027.0 711.6L1026.0 711.7L1025.0 711.8L1024.0 711.9L1023.0 712.0L1022.0 712.0L1021.0 712.1L1020.0 712.1L1019.0 712.2L1018.0 712.2L1017.0 712.2L1016.0 712.3L1015.0 712.3L1014.0 712.3L1013.0 712.3L1012.0 712.3L1011.0 712.3L1010.0 712.3L1009.0 712.3L1008.0 712.3L1007.0 712.3L1006.0 712.3L1005.0 712.3L1004.0 712.3L1003.0 712.3L1002.0 712.3L1001.0 712.3L1000.0 712.3L999.0 712.3L998.0 712.3L997.0 712.3L996.0 712.3L995.0 712.3L994.0 712.3L993.0 712.3L992.0 712.3L991.0 712.3L990.0 712.3L989.0 712.2L988.0 712.2L987.0 712.2L986.0 712.1L985.0 712.1L984.0 712.0L983.0 711.9L982.0 711.8L981.0 711.8L980.0 711.7L979.0 711.6L978.0 711.5L977.0 711.4L976.0 711.2L975.0 711.1L974.0 711.0L973.0 710.8L972.0 710.7L971.0 710.5L970.0 710.3L969.0 710.2L968.0 710.0L967.0 709.8L966.0 709.6L965.0 709.4L964.0 709.2L963.0 708.9L962.0 708.7L961.0 708.5L960.0 708.2L959.0 708.0L958.0 707.7L957.0 707.4L956.0 707.2L955.0 706.9L954.0 706.6L953.0 706.3L952.0 706.0L951.0 705.7L950.0 705.4L949.0 705.1L948.0 704.7L947.0 704.4L946.0 704.1L945.0 703.7L944.0 703.4L943.0 703.0L942.0 702.6L941.0 702.2L940.0 701.9L939.0 701.5L938.0 701.1L937.0 700.7L936.0 700.3L935.0 699.9L934.0 699.4L933.0 699.0L932.0 698.6L931.0 698.2L930.0 697.7L929.0 697.3L928.0 696.9L927.0 696.4L926.0 695.9L925.0 695.4L924.0 694.9L923.0 694.5L922.0 694.0L921.0 693.5L920.0 693.0L919.0 692.5L918.0 692.1L917.0 691.5L916.0 691.0L915.0 690.5L914.0 689.9L913.0 689.4L912.0 688.9L911.0 688.4L910.0 687.8L909.0 687.2L908.0 686.7L907.0 686.1L906.0 685.6L905.0 685.0L904.0 684.4L903.0 683.9L902.0 683.3L901.0 682.6L900.0 682.1L899.0 681.5L898.0 680.9L897.0 680.3L896.0 679.7L895.0 679.1L894.0 678.5L893.0 677.8L892.0 677.2L891.0 676.6L890.0 676.0L889.0 675.4L888.0 674.8L887.0 674.1L886.0 673.5L885.0 672.9L884.0 672.1L883.0 671.5L882.0 670.9L881.0 670.2L880.0 669.6L879.0 668.9L878.0 668.3L877.0 667.6L876.0 666.9L875.0 666.2L874.0 665.5L873.0 664.9L872.0 664.2L871.0 663.5L870.0 662.9L869.0 662.2L868.0 661.4L867.0 660.7L866.0 660.0L865.0 659.4L864.0 658.7L863.0 658.0L862.0 657.3L861.0 656.6L860.0 655.8L859.0 655.1L858.0 654.4L857.0 653.7L856.0 653.0L855.0 652.3L854.0 651.6L853.0 650.9L852.0 650.2L851.0 649.4L850.0 648.7L849.0 648.0L848.0 647.3L847.0 646.6L846.0 645.9L845.0 645.2L844.0 644.4L843.0 643.6L842.0 642.9L841.0 642.2L840.0 641.5L839.0 640.8L838.0 640.0L837.0 639.3L836.0 638.6L835.0 637.8L834.0 637.1L833.0 636.4L832.0 635.6L831.0 634.9L830.0 634.2L829.0 633.5L828.0 632.8L827.0 631.9L826.0 631.2L825.0 630.5L824.0 629.8L823.0 629.1L822.0 628.4L821.0 627.7L820.0 627.0L819.0 626.2L818.0 625.4L817.0 624.7L816.0 624.0L815.0 623.3L814.0 622.6L813.0 621.9L812.0 621.2L811.0 620.5L810.0 619.7L809.0 619.0L808.0 618.3L807.0 617.6L806.0 616.9L805.0 616.2L804.0 615.5L803.0 614.8L802.0 614.0L801.0 613.3L800.0 612.6L799.0 611.9L798.0 611.2L797.0 610.6L796.0 609.9L795.0 609.2L794.0 608.4L793.0 607.8L792.0 607.1L791.0 606.4L790.0 605.8L789.0 605.1L788.0 604.4L787.0 603.8L786.0 603.1L785.0 602.4L784.0 601.7L783.0 601.1L782.0 600.4L781.0 599.8L780.0 599.1L779.0 598.5L778.0 597.9L777.0 597.2L776.0 596.5L775.0 595.9L774.0 595.3L773.0 594.7L772.0 594.1L771.0 593.5L770.0 592.9L769.0 592.2L768.0 591.6L767.0 591.0L766.0 590.4L765.0 589.8L764.0 589.2L763.0 588.6L762.0 588.1L761.0 587.4L760.0 586.8L759.0 586.3L758.0 585.7L757.0 585.2L756.0 584.6L755.0 584.1L754.0 583.6L753.0 582.9L752.0 582.4L751.0 581.9L750.0 581.4L749.0 580.8L748.0 580.3L747.0 579.8L746.0 579.3L745.0 578.8L744.0 578.2L743.0 577.8L742.0 577.3L741.0 576.8L740.0 576.3L739.0 575.8L738.0 575.4L737.0 574.9L736.0 574.4L735.0 573.9L734.0 573.4L733.0 573.0L732.0 572.5L731.0 572.1L730.0 571.7L729.0 571.2L728.0 570.7L727.0 570.3L726.0 569.9L725.0 569.4L724.0 569.0L723.0 568.6L722.0 568.2L721.0 567.8L720.0 567.3L719.0 566.9L718.0 566.5L717.0 566.1L716.0 565.7L715.0 565.4L714.0 565.0L713.0 564.6L712.0 564.2L711.0 563.8L710.0 563.4L709.0 563.1L708.0 562.7L707.0 562.3L706.0 562.0L705.0 561.6L704.0 561.3L703.0 560.9L702.0 560.5L701.0 560.2L700.0 559.9L699.0 559.5L698.0 559.2L697.0 558.9L696.0 558.6L695.0 558.2L694.0 557.9L693.0 557.5L692.0 557.2L691.0 556.9L690.0 556.6L689.0 556.3L688.0 556.0L687.0 555.7L686.0 555.4L685.0 555.1L684.0 554.8L683.0 554.5L682.0 554.2L681.0 554.0L680.0 553.7L679.0 553.4L678.0 553.1L677.0 552.8L676.0 552.5L675.0 552.3L674.0 552.0L673.0 551.8L672.0 551.5L671.0 551.2L670.0 551.0L669.0 550.7L668.0 550.5L667.0 550.2L666.0 550.0L665.0 549.7L664.0 549.5L663.0 549.3L662.0 549.0L661.0 548.8L660.0 548.5L659.0 548.3L658.0 548.1L657.0 547.9L656.0 547.7L655.0 547.4L654.0 547.2L653.0 547.0L652.0 546.8L651.0 546.6L650.0 546.4L649.0 546.2L648.0 546.0L647.0 545.8L646.0 545.6L645.0 545.3L644.0 545.2L643.0 545.0L642.0 544.8L641.0 544.6L640.0 544.4L639.0 544.2L638.0 544.1L637.0 543.8L636.0 543.7L635.0 543.5L634.0 543.3L633.0 543.2L632.0 543.0L631.0 542.8L630.0 542.7L629.0 542.5L628.0 542.3L627.0 542.2L626.0 542.0L625.0 541.9L624.0 541.7L623.0 541.6L622.0 541.4L621.0 541.3L620.0 541.1L619.0 541.0L618.0 540.9L617.0 540.7L616.0 540.6L615.0 540.5L614.0 540.3L613.0 540.2L612.0 540.1L611.0 539.9L610.0 539.8L609.0 539.7L608.0 539.6L607.0 539.5L606.0 539.4L605.0 539.2L604.0 539.1L603.0 539.0L602.0 538.9L601.0 538.8L600.0 538.7L599.0 538.6L598.0 538.5L597.0 538.4L596.0 538.3L595.0 538.2L594.0 538.1L593.0 538.0L592.0 537.9L591.0 537.8L590.0 537.7L589.0 537.6L588.0 537.5L587.0 537.5L586.0 537.4L585.0 537.3L584.0 537.2L583.0 537.2L582.0 537.1L581.0 537.0L580.0 536.9L579.0 536.9L578.0 536.8L577.0 536.7L576.0 536.7L575.0 536.6L574.0 536.5L573.0 536.5L572.0 536.4L571.0 536.3L570.0 536.3L569.0 536.2L568.0 536.2L567.0 536.1L566.0 536.1L565.0 536.0L564.0 536.0L563.0 535.9L562.0 535.9L561.0 535.8L560.0 535.8L559.0 535.8L558.0 535.7L557.0 535.7L556.0 535.6L555.0 535.6L554.0 535.6L553.0 535.5L552.0 535.5L551.0 535.5L550.0 535.4L549.0 535.4L548.0 535.4L547.0 535.3L546.0 535.3L545.0 535.3L544.0 535.3L543.0 535.3L542.0 535.2L541.0 535.2L540.0 535.2L539.0 535.2L538.0 535.2L537.0 535.1L536.0 535.1L535.0 535.1L534.0 535.1L533.0 535.1L532.0 535.1L531.0 535.1L530.0 535.1L529.0 535.1L528.0 535.1L527.0 535.1L526.0 535.2L525.0 535.2L524.0 535.2L523.0 535.2L522.0 535.2L521.0 535.2L520.0 535.2L519.0 535.3L518.0 535.3L517.0 535.3L516.0 535.3L515.0 535.3L514.0 535.4L513.0 535.4L512.0 535.4L511.0 535.4L510.0 535.5L509.0 535.5L508.0 535.5L507.0 535.5L506.0 535.6L505.0 535.6L504.0 535.6L503.0 535.6L502.0 535.7L501.0 535.7L500.0 535.7L499.0 535.8L498.0 535.8L497.0 535.8L496.0 535.8L495.0 535.9L494.0 535.9L493.0 535.9L492.0 536.0L491.0 536.0L490.0 536.0L489.0 536.1L488.0 536.1L487.0 536.1L486.0 536.2L485.0 536.2L484.0 536.2L483.0 536.3L482.0 536.3L481.0 536.3L480.0 536.4L479.0 536.4L478.0 536.5L477.0 536.5L476.0 536.5L475.0 536.6L474.0 536.6L473.0 536.6L472.0 536.7L471.0 536.7L470.0 536.7L469.0 536.8L468.0 536.8L467.0 536.9L466.0 536.9L465.0 536.9L464.0 537.0L463.0 537.0L462.0 537.0L461.0 537.1L460.0 537.1L459.0 537.2L458.0 537.2L457.0 537.2L456.0 537.3L455.0 537.3L454.0 537.4L453.0 537.4L452.0 537.4L451.0 537.5L450.0 537.5L449.0 537.5L448.0 537.6L447.0 537.6L446.0 537.7L445.0 537.7L444.0 537.7L443.0 537.8L442.0 537.8L441.0 537.8L440.0 537.9L439.0 537.9L438.0 537.9L437.0 538.0L436.0 538.0L435.0 538.1L434.0 538.1L433.0 538.1L432.0 538.2L431.0 538.2L430.0 538.2L429.0 538.3L428.0 538.3L427.0 538.3L426.0 538.4L425.0 538.4L424.0 538.4L423.0 538.4L422.0 538.5L421.0 538.5L420.0 538.5L419.0 538.6L418.0 538.6L417.0 538.6L416.0 538.7L415.0 538.7L414.0 538.7L413.0 538.7L412.0 538.8L411.0 538.8L410.0 538.8L409.0 538.8L408.0 538.9L407.0 538.9L406.0 538.9L405.0 538.9L404.0 538.9L403.0 539.0L402.0 539.0L401.0 539.0L400.0 539.0L399.0 539.0L398.0 539.1L397.0 539.1L396.0 539.1L395.0 539.1L394.0 539.1L393.0 539.1L392.0 539.2L391.0 539.2L390.0 539.2L389.0 539.2L388.0 539.2L387.0 539.2L386.0 539.2L385.0 539.2L384.0 539.2L383.0 539.2L382.0 539.2L381.0 539.2L380.0 539.2L379.0 539.2L378.0 539.2L377.0 539.2L376.0 539.2L375.0 539.2L374.0 539.2L373.0 539.2L372.0 539.2L371.0 539.2L370.0 539.2L369.0 539.2L368.0 539.2L367.0 539.2L366.0 539.2Z" fill="#000" shape-rendering="crispEdges"/>
<path d="M376.5 851.8L386.4 853.7L396.3 855.6L406.2 857.6L416.1 859.5L426.0 861.5L435.9 863.5L445.8 865.6L455.7 867.6L465.6 869.7L475.5 871.7L485.4 873.8L495.3 875.9L505.2 878.0L515.1 880.1L525.0 882.2L534.9 884.4L544.7 886.5L554.6 888.6L564.5 890.8L574.4 892.9L584.3 895.0L594.2 897.2L604.1 899.3L614.0 901.4L623.9 903.5L633.8 905.6L643.7 907.7L653.6 909.8L663.5 911.9L673.4 914.0L683.3 916.0L693.2 918.0L703.1 920.1L713.0 922.0L722.9 924.0L732.8 926.0L742.7 927.9L752.6 929.8L762.5 931.7L772.4 933.5L782.3 935.3L792.2 937.1L802.1 938.9L812.0 940.6L821.9 942.3L831.8 943.9L841.7 945.5L851.6 947.1L861.5 948.6L871.3 950.1L881.2 951.5L891.1 953.0L901.0 954.3L910.9 955.7L920.8 957.0L930.7 958.2L940.6 959.5L950.5 960.7L960.4 962.0L970.3 963.2L980.2 964.4L990.1 965.6L1000.0 966.8L1009.9 967.9L1019.8 969.1L1029.7 970.3L1039.6 971.6L1049.5 972.8L1059.4 974.0L1069.3 975.3L1079.2 976.6L1089.1 977.9L1099.0 979.2L1108.9 980.6L1118.8 982.0L1128.7 983.5L1138.6 985.0L1148.5 986.5L1158.4 988.1L1168.3 989.7L1178.2 991.3L1188.1 993.0L1197.9 994.7L1207.8 996.4L1217.7 998.1L1227.6 999.9L1237.5 1001.6L1247.4 1003.4L1257.3 1005.2L1267.2 1007.0L1277.1 1008.8L1287.0 1010.6L1296.9 1012.4L1306.8 1014.2L1316.7 1016.0L1326.6 1017.7L1336.5 1019.3L1346.4 1020.8L1356.3 1022.0" fill="none" stroke="#7b4848" stroke-width="24.6" stroke-linecap="round" stroke-linejoin="round" shape-rendering="crispEdges"/>
<rect x="268.0" y="47.0" width="1234.0" height="994.0" fill="none" stroke="#000" stroke-width="4" shape-rendering="crispEdges"/>
<text x="340.6" y="1105" font-size="57" text-anchor="middle">1.2</text>
<text x="485.8" y="1105" font-size="57" text-anchor="middle">1.3</text>
<text x="630.9" y="1105" font-size="57" text-anchor="middle">1.4</text>
<text x="776.1" y="1105" font-size="57" text-anchor="middle">1.5</text>
<text x="921.3" y="1105" font-size="57" text-anchor="middle">1.6</text>
<text x="1066.5" y="1105" font-size="57" text-anchor="middle">1.7</text>
<text x="1211.6" y="1105" font-size="57" text-anchor="middle">1.8</text>
<text x="1356.8" y="1105" font-size="57" text-anchor="middle">1.9</text>
<text x="1502.0" y="1105" font-size="57" text-anchor="middle">2.0</text>
<text x="246" y="67.6" font-size="57" text-anchor="end">3x10<tspan font-size="37" dy="-23.6">-4</tspan></text>
<text x="246" y="328.6" font-size="57" text-anchor="end">2.5x10<tspan font-size="37" dy="-23.6">-4</tspan></text>
<text x="246" y="648.6" font-size="57" text-anchor="end">2x10<tspan font-size="37" dy="-23.6">-4</tspan></text>
<text x="246" y="1061.3" font-size="57" text-anchor="end">1.5x10<tspan font-size="37" dy="-23.6">-4</tspan></text>
<text transform="translate(59.7 538) rotate(-90)" font-size="58" text-anchor="middle">BI</text>
<text y="1194" font-size="53" xml:space="preserve"><tspan x="774.2">WL  </tspan><tspan x="882.6" textLength="100" lengthAdjust="spacingAndGlyphs">[μm]</tspan></text>
<rect x="321.5" y="607.5" width="194" height="157.5" fill="#fff" stroke="#000" stroke-width="1"/>
<path d="M321 765.3H516" stroke="#000" stroke-width="1.6"/>
<path d="M326 642.7H372.6M399.4 642.7H446" stroke="#8a4309" stroke-width="5"/>
<circle cx="385.9" cy="643" r="12" fill="#7b4848"/>
<path d="M328 718.3H370.6M401.4 718.3H444" stroke="#000" stroke-width="5.2" stroke-linecap="round"/>
<rect x="375" y="707" width="22" height="22" fill="#000"/>
<text x="456" y="659.5" font-size="51.6">B<tspan font-size="32.5" dx="1.8" dy="14.2">p</tspan></text>
<text x="456" y="734.3" font-size="51.6">B<tspan font-size="32.5" dx="1.4" dy="15.2">g</tspan></text>
</svg></body></html>
